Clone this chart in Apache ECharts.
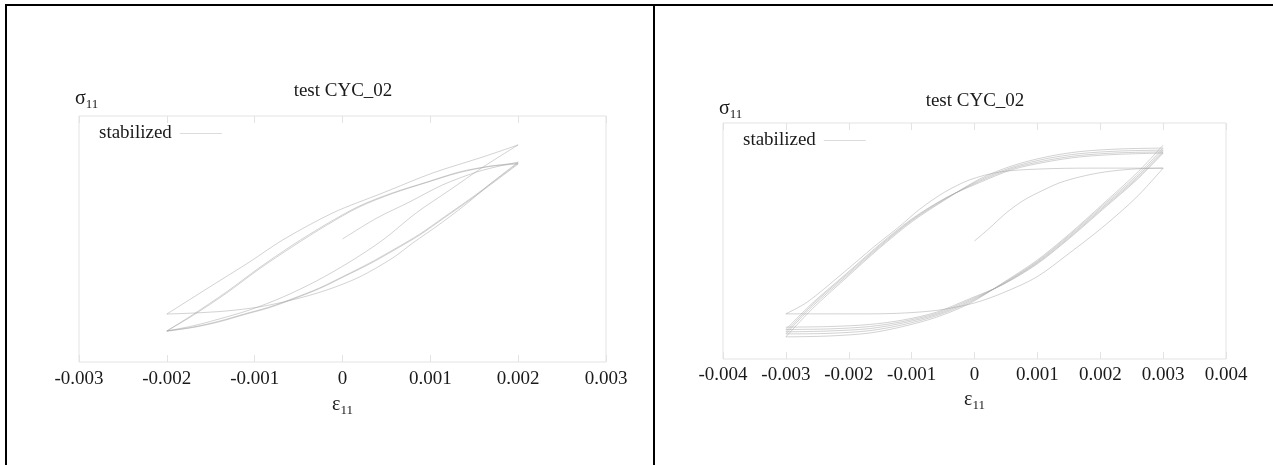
<!DOCTYPE html>
<html><head><meta charset="utf-8">
<script src="https://cdn.jsdelivr.net/npm/echarts@6/dist/echarts.min.js"></script>
<style>html,body{margin:0;padding:0;background:#fff}#c{width:1273px;height:465px}</style>
</head><body><div id="c"></div>
<script>
// ---------- texts ----------
const titleText = 'test CYC_02';
const seriesName = 'stabilized';
// ---------- axes ----------
const leftX = { min: -0.003, max: 0.003, interval: 0.001 };
const rightX = { min: -0.004, max: 0.004, interval: 0.001 };
const yRange = { min: -400, max: 400 };

// ---------- left test: strain amplitude 0.002 (strain, stress) ----------
const L_init  = [[0,0],[0.00039,68],[0.00076,120],[0.00114,176],[0.00153,218],[0.0018,238],[0.002,250]];
const L_down1 = [[0.002,250],[0.00168,179],[0.00141,114],[0.00111,49],[0.0008,-13],[0.00057,-62],[0.00019,-124],[-0.00018,-166],[-0.00057,-198],[-0.00095,-221],[-0.00132,-234],[-0.00171,-241],[-0.002,-244]];
const L_up1   = [[-0.002,-244],[-0.00144,-143],[-0.00106,-75],[-0.00068,-3],[-0.00011,85],[0.00046,150],[0.00103,215],[0.0016,267],[0.002,306]];
const L_down2 = [[0.002,306],[0.0016,234],[0.00122,159],[0.00084,85],[0.00046,-3],[0.00008,-75],[-0.0003,-137],[-0.00068,-189],[-0.00106,-231],[-0.00144,-263],[-0.00171,-283],[-0.002,-299]];
const L_up2   = [[-0.002,-299],[-0.00171,-247],[-0.00132,-172],[-0.00095,-94],[-0.00057,-20],[-0.00018,49],[0.00019,107],[0.00057,150],[0.00096,185],[0.00133,218],[0.00168,237],[0.002,247]];
const L_down3 = [[0.002,247],[0.00173,189],[0.00145,130],[0.00116,72],[0.00088,16],[0.00059,-33],[0.00031,-78],[0.00002,-120],[-0.00026,-159],[-0.00055,-192],[-0.00083,-221],[-0.00112,-244],[-0.0014,-267],[-0.00169,-286],[-0.002,-299]];
const L_up3   = [[-0.002,-299],[-0.00171,-250],[-0.00132,-176],[-0.00095,-98],[-0.00057,-25],[-0.00018,45],[0.00019,104],[0.00057,148],[0.00096,184],[0.00133,216],[0.00168,236],[0.002,244]];
const L_down4 = [[0.002,244],[0.00173,186],[0.00145,127],[0.00116,69],[0.00088,13],[0.00059,-36],[0.00031,-81],[0.00002,-122],[-0.00026,-161],[-0.00055,-194],[-0.00083,-223],[-0.00112,-246],[-0.0014,-269],[-0.00169,-287],[-0.002,-300]];

// ---------- right test: strain amplitude 0.003 ----------
const R_init  = [[0,0],[0.00024,44],[0.00052,98],[0.00079,139],[0.00107,170],[0.00135,197],[0.00167,217],[0.00207,234],[0.00254,244],[0.003,247]];
const R_down1 = [[0.003,247],[0.00258,149],[0.00204,47],[0.00151,-41],[0.00099,-122],[0.00045,-176],[0,-210],[-0.00056,-234],[-0.00111,-244],[-0.00167,-247],[-0.00231,-247],[-0.003,-247]];
const R_up1   = [[-0.003,-247],[-0.00266,-207],[-0.00211,-112],[-0.00159,-18],[-0.00119,50],[-0.00087,108],[-0.00048,165],[-0.00008,207],[0.0004,234],[0.00103,244],[0.00183,247],[0.003,247]];
const R_D1 = [[0.003,325],[0.00258,230],[0.00204,125],[0.00151,24],[0.00099,-66],[0.00045,-142],[-0.00008,-212],[-0.0006,-258],[-0.00114,-290],[-0.00167,-312],[-0.00231,-322],[-0.003,-325]];
const R_U1 = [[-0.003,-325],[-0.00258,-230],[-0.00204,-125],[-0.00151,-24],[-0.00099,66],[-0.00045,142],[0.00008,210],[0.0006,255],[0.00114,285],[0.00167,303],[0.00231,312],[0.003,315]];
const R_D2 = [[0.003,315],[0.00258,222],[0.00204,120],[0.00151,20],[0.00099,-70],[0.00045,-144],[-0.00008,-208],[-0.0006,-253],[-0.00114,-284],[-0.00167,-304],[-0.00231,-313],[-0.003,-315]];
const R_U2 = [[-0.003,-315],[-0.00258,-222],[-0.00204,-120],[-0.00151,-20],[-0.00099,70],[-0.00045,144],[0.00008,206],[0.0006,250],[0.00114,279],[0.00167,296],[0.00231,305],[0.003,308]];
const R_D3 = [[0.003,308],[0.00258,216],[0.00204,115],[0.00151,16],[0.00099,-73],[0.00045,-146],[-0.00008,-204],[-0.0006,-249],[-0.00114,-278],[-0.00167,-297],[-0.00231,-305],[-0.003,-308]];
const R_U3 = [[-0.003,-308],[-0.00258,-216],[-0.00204,-115],[-0.00151,-16],[-0.00099,73],[-0.00045,146],[0.00008,202],[0.0006,246],[0.00114,273],[0.00167,290],[0.00231,299],[0.003,302]];
const R_D4 = [[0.003,302],[0.00258,211],[0.00204,111],[0.00151,12],[0.00099,-76],[0.00045,-147],[-0.00008,-200],[-0.0006,-245],[-0.00114,-273],[-0.00167,-290],[-0.00231,-298],[-0.003,-300]];
const R_U4 = [[-0.003,-300],[-0.00258,-211],[-0.00204,-111],[-0.00151,-12],[-0.00099,76],[-0.00045,147],[0.00008,198],[0.0006,242],[0.00114,268],[0.00167,285],[0.00231,294],[0.003,298]];
const R_D5 = [[0.003,298],[0.00258,207],[0.00204,107],[0.00151,9],[0.00099,-79],[0.00045,-148],[-0.00008,-196],[-0.0006,-241],[-0.00114,-268],[-0.00167,-283],[-0.00231,-290],[-0.003,-292]];

const leftBranches = [L_init, L_down1, L_up1, L_down2, L_up2, L_down3, L_up3, L_down4];
const rightBranches = [R_init, R_down1, R_up1, R_D1, R_U1, R_D2, R_U2, R_D3, R_U3, R_D4, R_U4, R_D5];

// ---------- styling ----------
const FONT = 'Liberation Serif';
const TXT = '#1a1a1a';
const BOX = '#e3e3e3';
const LINE = 'rgba(165,165,165,0.5)';
const rich = {
  a: { fontFamily: FONT, fontSize: 20, color: TXT, verticalAlign: 'top', lineHeight: 22 },
  b: { fontFamily: FONT, fontSize: 13, color: TXT, verticalAlign: 'top', padding: [9, 0, 0, 0] }
};
const fmt = v => Math.abs(v) < 1e-12 ? '0' : v.toFixed(3);

function bottomAxis(gi, r, margin, gap) {
  return {
    type: 'value', gridIndex: gi, position: 'bottom', min: r.min, max: r.max, interval: r.interval,
    axisLine: { show: false, onZero: false }, splitLine: { show: false },
    axisTick: { show: true, inside: true, length: 7, lineStyle: { color: BOX } },
    axisLabel: { formatter: fmt, margin: margin, fontFamily: FONT, fontSize: 19, color: TXT },
    name: '{a|ε}{b|11}', nameLocation: 'middle', nameGap: gap, nameTextStyle: { rich: rich }
  };
}
function topAxis(gi, r) {
  return {
    type: 'value', gridIndex: gi, position: 'top', min: r.min, max: r.max, interval: r.interval,
    axisLine: { show: false, onZero: false }, splitLine: { show: false }, axisLabel: { show: false },
    axisTick: { show: true, inside: true, length: 7, lineStyle: { color: BOX } }
  };
}
function yAxis(gi, gap) {
  return {
    type: 'value', gridIndex: gi, position: 'left', min: yRange.min, max: yRange.max,
    axisLine: { show: false, onZero: false }, axisTick: { show: false }, axisLabel: { show: false }, splitLine: { show: false },
    name: '{a|σ}{b|11}', nameLocation: 'end', nameGap: gap,
    nameTextStyle: { rich: rich, align: 'left', verticalAlign: 'bottom', padding: [0, 0, 0, -4] }
  };
}
function legend(left, top) {
  return {
    data: [{ name: seriesName, itemStyle: { color: '#dcdcdc' } }], left: left, top: top, align: 'right',
    icon: 'rect', itemWidth: 42, itemHeight: 1, selectedMode: false,
    textStyle: { fontFamily: FONT, fontSize: 19, color: TXT, padding: [0, 3, 0, 0] }
  };
}
const series = [];
leftBranches.forEach(d => series.push({ name: seriesName, type: 'line', xAxisIndex: 0, yAxisIndex: 0, data: d,
  showSymbol: false, smooth: 0.3, lineStyle: { width: 1, color: LINE }, itemStyle: { color: LINE }, silent: true, animation: false }));
rightBranches.forEach(d => series.push({ name: seriesName, type: 'line', xAxisIndex: 2, yAxisIndex: 1, data: d,
  showSymbol: false, smooth: 0.3, lineStyle: { width: 1, color: LINE }, itemStyle: { color: LINE }, silent: true, animation: false }));

const chart = echarts.init(document.getElementById('c'), null, { renderer: 'canvas' });
chart.setOption({
  animation: false,
  backgroundColor: '#fff',
  title: [
    { text: titleText, left: 343, top: 82, textAlign: 'center', padding: 0, textStyle: { fontFamily: FONT, fontSize: 19, fontWeight: 'normal', color: TXT } },
    { text: titleText, left: 975, top: 92, textAlign: 'center', padding: 0, textStyle: { fontFamily: FONT, fontSize: 19, fontWeight: 'normal', color: TXT } }
  ],
  legend: [legend(94, 119), legend(738, 126)],
  grid: [
    { left: 79, top: 116, width: 527, height: 246, show: true, borderColor: BOX, borderWidth: 1 },
    { left: 723, top: 123, width: 503, height: 236, show: true, borderColor: BOX, borderWidth: 1 }
  ],
  xAxis: [bottomAxis(0, leftX, 8, 33), topAxis(0, leftX), bottomAxis(1, rightX, 7, 31), topAxis(1, rightX)],
  yAxis: [yAxis(0, 5), yAxis(1, 2)],
  series: series,
  graphic: [
    { type: 'rect', shape: { x: 5, y: 4, width: 1268, height: 2 }, style: { fill: '#000' }, silent: true },
    { type: 'rect', shape: { x: 5, y: 4, width: 2, height: 461 }, style: { fill: '#000' }, silent: true },
    { type: 'rect', shape: { x: 653, y: 4, width: 2, height: 461 }, style: { fill: '#000' }, silent: true }
  ]
});
</script></body></html>
